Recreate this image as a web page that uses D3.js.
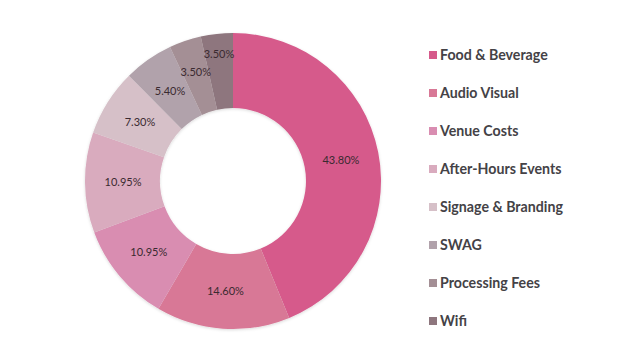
<!DOCTYPE html>
<html>
<head>
<meta charset="utf-8">
<script src="https://cdn.jsdelivr.net/npm/d3@7"></script>
<style>
  body { margin: 0; background: #fff; }
  svg { display: block; }
</style>
</head>
<body>
<div id="chart"></div>
<script>
const categories = ["Food & Beverage", "Audio Visual", "Venue Costs", "After-Hours Events",
  "Signage & Branding", "SWAG", "Processing Fees", "Wifi"];
const shares = [43.8, 14.6, 10.95, 10.95, 7.3, 5.4, 3.5, 3.5];
const colors = ["#d65a8b", "#d87896", "#d98db1", "#d9abbe", "#d6c0c8", "#b1a2ab", "#a48f95", "#8e767e"];

const width = 620, height = 363;
const cx = 233, cy = 181;
const outerR = 148, innerR = 73;
const labelR = 110;

const data = categories.map((c, i) => ({ category: c, share: shares[i] }));

const svg = d3.select("#chart").append("svg")
  .attr("width", width)
  .attr("height", height);

const defs = svg.append("defs");
const shadow = defs.append("filter").attr("id", "shadow")
  .attr("x", "-10%").attr("y", "-10%").attr("width", "120%").attr("height", "120%");
shadow.append("feDropShadow")
  .attr("dx", 0).attr("dy", 1).attr("stdDeviation", 1.5)
  .attr("flood-color", "#000").attr("flood-opacity", 0.15);

const color = d3.scaleOrdinal().domain(categories).range(colors);

const pie = d3.pie().sort(null).value(d => d.share);
const arc = d3.arc().innerRadius(innerR).outerRadius(outerR);
const arcs = pie(data);

const g = svg.append("g").attr("transform", `translate(${cx},${cy})`);

g.append("g").attr("filter", "url(#shadow)")
  .selectAll("path")
  .data(arcs)
  .enter()
  .append("path")
  .attr("d", arc)
  .attr("fill", d => color(d.data.category));

// label spots at the arc middle; push a label outward when it runs into the one before
const spots = [];
arcs.forEach((d, i) => {
  const a = (d.startAngle + d.endAngle) / 2;
  let r = labelR;
  let p = [Math.sin(a) * r, -Math.cos(a) * r];
  const prev = spots[i - 1];
  while (prev && Math.abs(p[1] - prev[1]) < 18 && Math.abs(p[0] - prev[0]) < 34 && r < outerR) {
    r += 1;
    p = [Math.sin(a) * r, -Math.cos(a) * r];
  }
  spots.push(p);
});

g.selectAll(".label")
  .data(arcs)
  .enter()
  .append("text")
  .attr("transform", (d, i) => `translate(${spots[i]})`)
  .attr("text-anchor", "middle")
  .attr("dy", "0.35em")
  .style("font-family", "Lato, sans-serif")
  .style("font-size", "11px")
  .style("fill", "#3a2a30")
  .text(d => d3.format(".2f")(d.data.share) + "%");

const legend = svg.append("g").attr("transform", "translate(429,55)");
const rows = legend.selectAll("g")
  .data(categories)
  .enter()
  .append("g")
  .attr("transform", (d, i) => `translate(0,${i * 38})`);

rows.append("rect")
  .attr("x", 0).attr("y", -4)
  .attr("width", 8).attr("height", 8)
  .attr("fill", d => color(d));

rows.append("text")
  .attr("x", 11)
  .attr("dy", "0.35em")
  .style("font-family", "Lato, sans-serif")
  .style("font-size", "14.2px")
  .style("font-weight", "bold")
  .style("fill", "#444246")
  .text(d => d);
</script>
</body>
</html>
